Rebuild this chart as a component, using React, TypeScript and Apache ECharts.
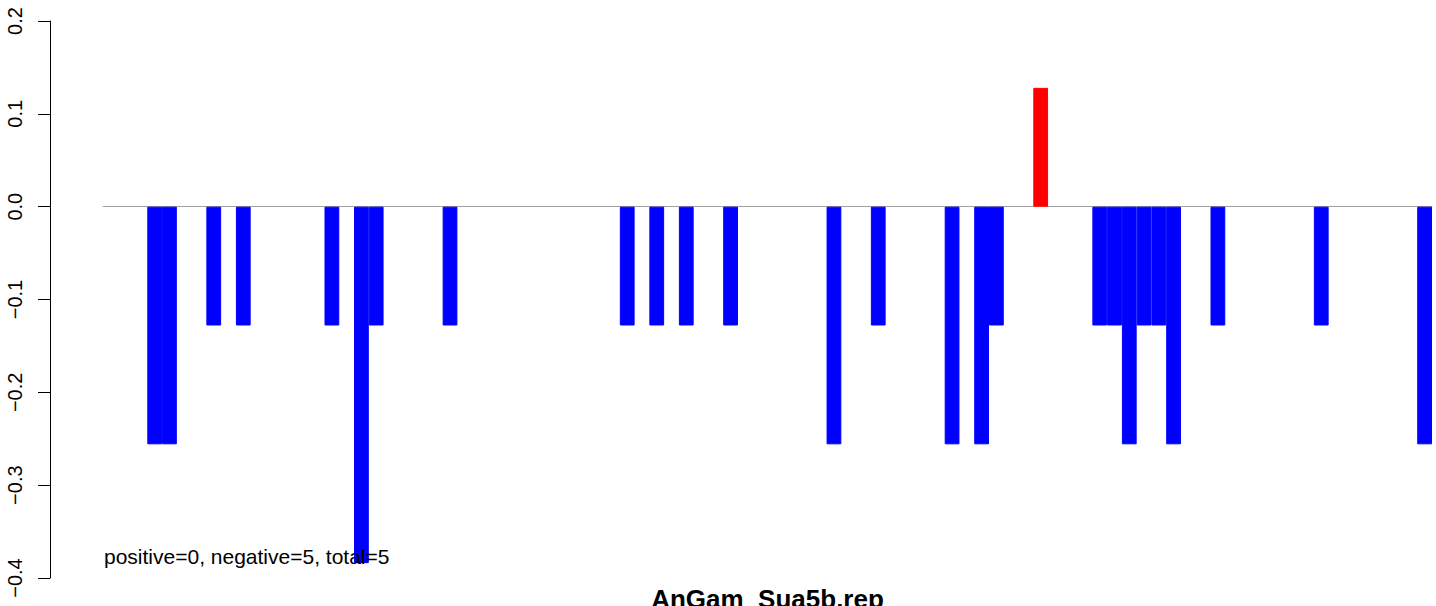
import React, { useEffect, useRef } from "react";
import * as echarts from "echarts";

const categories: string[] = Array.from({ length: 90 }, (_, i) => String(i + 1));

const values: number[] = [
  0, 0, 0, -0.256, -0.256, 0, 0, -0.128, 0, -0.128,
  0, 0, 0, 0, 0, -0.128, 0, -0.384, -0.128, 0,
  0, 0, 0, -0.128, 0, 0, 0, 0, 0, 0,
  0, 0, 0, 0, 0, -0.128, 0, -0.128, 0, -0.128,
  0, 0, -0.128, 0, 0, 0, 0, 0, 0, -0.256,
  0, 0, -0.128, 0, 0, 0, 0, -0.256, 0, -0.256,
  -0.128, 0, 0, 0.128, 0, 0, 0, -0.128, -0.128, -0.256,
  -0.128, -0.128, -0.256, 0, 0, -0.128, 0, 0, 0, 0,
  0, 0, -0.128, 0, 0, 0, 0, 0, 0, -0.256,
];

const yTicks: number[] = [-0.4, -0.3, -0.2, -0.1, 0.0, 0.1, 0.2];

const summaryText = "positive=0, negative=5, total=5";
const titleText = "AnGam_Sua5b.rep";

const FONT = "'Liberation Sans', Arial, Helvetica, sans-serif";

export default function App() {
  const ref = useRef<HTMLDivElement>(null);

  useEffect(() => {
    if (!ref.current) return;
    const chart = echarts.init(ref.current, null, { renderer: "svg" });
    chart.setOption({
      animation: false,
      backgroundColor: "#ffffff",
      grid: { left: 103, right: 4, top: 21, bottom: 28, containLabel: false },
      xAxis: {
        type: "category",
        data: categories,
        boundaryGap: true,
        axisLine: { show: true, onZero: true, lineStyle: { color: "#a0a0a0", width: 1 } },
        axisTick: { show: false },
        axisLabel: { show: false },
        splitLine: { show: false },
        z: 1,
      },
      yAxis: {
        type: "value",
        min: yTicks[0],
        max: yTicks[yTicks.length - 1],
        interval: 0.1,
        offset: 53,
        axisLine: { show: true, lineStyle: { color: "#000", width: 1 } },
        axisTick: { show: true, length: 12, inside: false, lineStyle: { color: "#000", width: 1 } },
        axisLabel: {
          show: true,
          rotate: 90,
          margin: 25,
          fontSize: 20,
          fontFamily: FONT,
          color: "#000",
          formatter: (v: number) => {
            const s = Math.abs(v).toFixed(1);
            return v < -1e-9 ? "\u2212" + s : s;
          },
        },
        splitLine: { show: false },
      },
      series: [
        {
          type: "bar",
          barWidth: "100%",
          barCategoryGap: "0%",
          z: 2,
          data: values.map((v) => {
            const c = v > 0 ? "#ff0000" : "#0000ff";
            return {
              value: v,
              itemStyle: { color: c, borderColor: c, borderWidth: v === 0 ? 0 : 1 },
            };
          }),
        },
      ],
      graphic: [
        {
          type: "text",
          left: 104,
          top: 546,
          z: 100,
          style: { text: summaryText, fontSize: 21, fontFamily: FONT, fill: "#000" },
        },
        {
          type: "text",
          x: 767.5,
          y: 586,
          z: 100,
          style: {
            text: titleText,
            fontSize: 26,
            fontWeight: "bold",
            fontFamily: FONT,
            fill: "#000",
            textAlign: "center",
            textVerticalAlign: "top",
          },
        },
      ],
    });
    return () => chart.dispose();
  }, []);

  return (
    <div
      ref={ref}
      style={{ position: "fixed", left: 0, top: 0, width: 1436, height: 606, background: "#fff" }}
    />
  );
}
